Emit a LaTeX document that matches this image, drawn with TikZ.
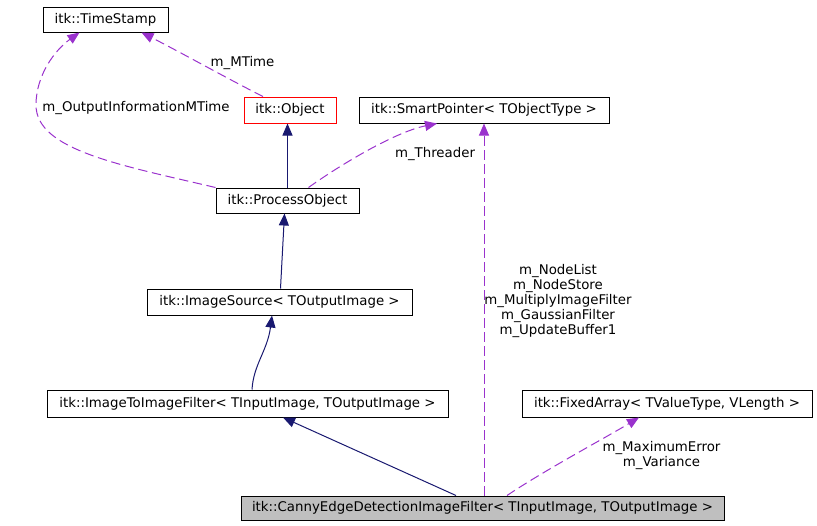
\documentclass[tikz,border=0pt]{standalone}
\usepackage{fontspec}
\setmainfont{DejaVu Sans}
\usetikzlibrary{arrows.meta,calc}
\definecolor{edgepurple}{HTML}{9A32CD}
\definecolor{edgenavy}{HTML}{191970}
\definecolor{cannyfill}{HTML}{BFBFBF}
\begin{document}
\begin{tikzpicture}[x=0.75pt,y=-0.75pt,
  box/.style={draw=black,line width=0.75pt,inner sep=0pt,font=\fontsize{10}{12}\selectfont},
  sz/.style 2 args={minimum width=#1*0.75pt,minimum height=#2*0.75pt},
  lbl/.style={inner sep=0pt,font=\fontsize{10}{11.25}\selectfont,align=center},
  inherit/.style={draw=edgenavy,line width=0.75pt,-{Triangle[length=9pt,width=7.5pt]}},
  usage/.style={draw=edgepurple,line width=0.75pt,dash pattern=on 7pt off 3.5pt,-{Triangle[length=9pt,width=7.5pt]}}]
\useasboundingbox (0,0) rectangle (817,525);
% nodes
\node[box,sz={125}{25}] (ts) at (105.5,19.5) {itk::TimeStamp};
\node[box,sz={92}{26},draw=red] (obj) at (290,110) {itk::Object};
\node[box,sz={250}{26}] (sp) at (484,110) {itk::SmartPointer< TObjectType >};
\node[box,sz={143}{25}] (po) at (287.5,200.5) {itk::ProcessObject};
\node[box,sz={265}{26}] (is) at (279.5,302) {itk::ImageSource< TOutputImage >};
\node[box,sz={401}{27}] (i2i) at (247.5,403.5) {itk::ImageToImageFilter< TInputImage, TOutputImage >};
\node[box,sz={290}{27}] (fa) at (667,403.5) {itk::FixedArray< TValueType, VLength >};
\node[box,sz={483}{24},fill=cannyfill] (canny) at (482.5,508) {itk::CannyEdgeDetectionImageFilter< TInputImage, TOutputImage >};
% inheritance
\draw[inherit] (po.north) -- (po.north |- obj.south);
\draw[inherit] ($(is.north)+(1,0)$) -- ($(po.south)+(-3,0)$);
\draw[inherit] ($(i2i.north)+(4.5,0)$) .. controls ($(i2i.north)+(6,-25)$) and ($(is.south)+(-12,35)$) .. ($(is.south)+(-7.5,0)$);
\draw[inherit] ($(canny.north)+(-26.5,0)$) -- ($(i2i.south)+(35.5,0)$);
% usage
\coordinate (loop) at (36,105);
\draw[usage] ($(canny.north)+(1.5,0)$) -- (sp.south);
\draw[usage] ($(canny.north)+(24.5,0)$) .. controls (545,470) and (605,438) .. ($(fa.south)+(-28,0)$);
\draw[usage] ($(po.north)+(21,0)$) .. controls (340,165) and (395,132) .. ($(sp.south)+(-47,0)$);
\draw[usage] ($(obj.north)+(-27,0)$) .. controls (230,80) and (180,52) .. ($(ts.south)+(36,0)$);
\draw[usage] (po.north west) .. controls (120,165) and (36,150) .. (loop) .. controls (36,75) and (55,50) .. ($(ts.south)+(-26,0)$);
% labels
\node[lbl] (lmt) at (242.5,63) {m\_MTime};
\node[lbl] (loi) at (136,108) {m\_OutputInformationMTime};
\node[lbl] (lth) at (435,154) {m\_Threader};
\node[lbl] (lnl) at (558,301) {m\_NodeList\\m\_NodeStore\\m\_MultiplyImageFilter\\m\_GaussianFilter\\m\_UpdateBuffer1};
\node[lbl] (lme) at (661.5,455) {m\_MaximumError\\m\_Variance};
\end{tikzpicture}
\end{document}
